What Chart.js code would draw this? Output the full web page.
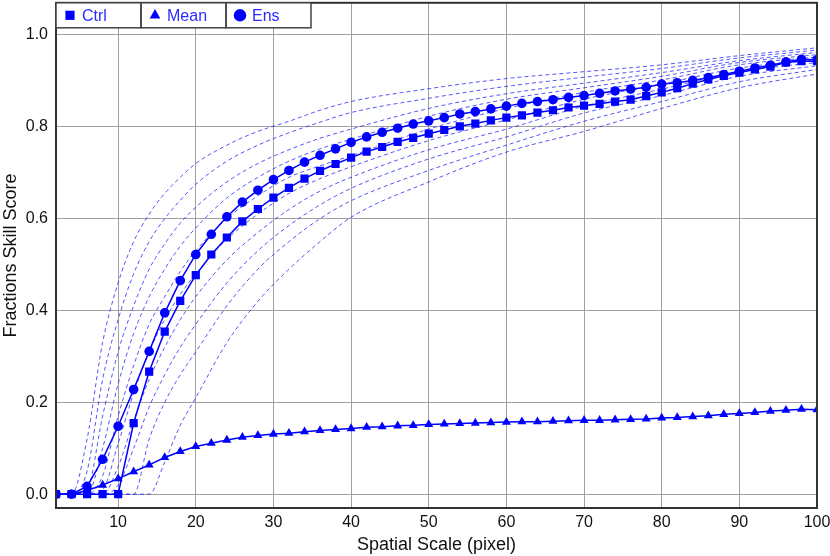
<!DOCTYPE html>
<html>
<head>
<meta charset="utf-8">
<script src="https://cdn.jsdelivr.net/npm/chart.js@4/dist/chart.umd.min.js"></script>
<style>
  html, body { margin:0; padding:0; background:#fff; overflow:hidden; }
  #wrap { width:830px; height:556px; overflow:hidden; }
  #fss { display:block; margin-top:-3px; }
</style>
</head>
<body>
<div id="wrap"><canvas id="fss" width="830" height="559"></canvas></div>
<script>
// spatial scales (pixel)
const scales = [2,4,6,8,10,12,14,16,18,20,22,24,26,28,30,32,34,36,38,40,42,44,46,48,50,
                52,54,56,58,60,62,64,66,68,70,72,74,76,78,80,82,84,86,88,90,92,94,96,98,100]

const ctrl = [0,0,0,0,0,0.155,0.267,0.354,0.421,0.477,0.522,0.559,0.594,0.621,0.646,0.667,0.687,0.704,0.719,0.733,
              0.746,0.756,0.767,0.776,0.785,0.793,0.801,0.807,0.814,0.820,0.825,0.831,0.836,0.842,0.846,0.850,0.855,0.859,0.867,0.875,
              0.884,0.894,0.903,0.911,0.918,0.925,0.931,0.940,0.943,0.943]
const mean = [0,0,0.008,0.020,0.034,0.049,0.064,0.080,0.093,0.104,0.111,0.118,0.124,0.128,0.131,0.133,0.136,0.139,0.141,0.143,
              0.146,0.147,0.149,0.150,0.152,0.153,0.154,0.155,0.156,0.157,0.158,0.158,0.159,0.160,0.161,0.161,0.162,0.163,0.164,0.166,
              0.167,0.169,0.171,0.174,0.176,0.178,0.181,0.183,0.185,0.184]
const ens = [0,0,0.017,0.076,0.148,0.228,0.311,0.395,0.465,0.522,0.566,0.604,0.636,0.662,0.685,0.705,0.723,0.738,0.752,0.766,
             0.778,0.788,0.797,0.806,0.813,0.820,0.828,0.833,0.839,0.845,0.851,0.855,0.859,0.864,0.868,0.873,0.878,0.882,0.886,0.893,
             0.896,0.901,0.907,0.914,0.921,0.928,0.934,0.941,0.947,0.946]

// ensemble members (dashed), read at these scales
const memberScales = [2,4,6,8,10,12,14,16,18,20,24,28,32,36,40,50,60,70,80,90,100]
const member1  = [0,0,0.12,0.33,0.46,0.55,0.61,0.655,0.69,0.72,0.76,0.79,0.812,0.836,0.855,0.883,0.905,0.92,0.935,0.955,0.972]
const member2  = [0,0,0.05,0.25,0.38,0.48,0.55,0.60,0.64,0.675,0.725,0.76,0.787,0.81,0.831,0.862,0.888,0.908,0.927,0.95,0.967]
const member3  = [0,0,0.01,0.17,0.31,0.41,0.49,0.545,0.59,0.625,0.68,0.72,0.75,0.775,0.795,0.84,0.872,0.895,0.918,0.944,0.962]
const member4  = [0,0,0,0.10,0.24,0.35,0.43,0.49,0.54,0.58,0.645,0.69,0.725,0.752,0.773,0.823,0.86,0.885,0.91,0.94,0.957]
const member5  = [0,0,0,0.04,0.17,0.28,0.37,0.43,0.485,0.53,0.60,0.65,0.69,0.715,0.737,0.795,0.84,0.875,0.902,0.935,0.952]
const member6  = [0,0,0,0.01,0.11,0.22,0.31,0.38,0.435,0.48,0.555,0.61,0.655,0.687,0.713,0.77,0.815,0.86,0.893,0.928,0.946]
const member7  = [0,0,0,0,0.06,0.16,0.25,0.32,0.38,0.43,0.51,0.57,0.62,0.66,0.69,0.75,0.795,0.845,0.882,0.92,0.94]
const member8  = [0,0,0,0,0.02,0.10,0.19,0.26,0.32,0.37,0.46,0.53,0.585,0.63,0.666,0.73,0.778,0.83,0.868,0.91,0.933]
const member9  = [0,0,0,0,0,0,0.12,0.20,0.26,0.31,0.41,0.49,0.55,0.60,0.639,0.705,0.76,0.812,0.855,0.898,0.925]
const member10 = [0,0,0,0,0,0,0,0.07,0.15,0.21,0.33,0.42,0.49,0.55,0.603,0.68,0.745,0.79,0.84,0.885,0.915]
const members = [member1,member2,member3,member4,member5,member6,member7,member8,member9,member10]

const xTicks = [10,20,30,40,50,60,70,80,90,100]
const yTicks = [0,0.2,0.4,0.6,0.8,1.0]

const blue = '#0000ff'
const fontFamily = '"Liberation Sans", Arial, sans-serif'

function pairs(xs, ys){
    return ys.map((y,i)=>({x: xs[i], y: y}))
}

let datasets = members.map((m,i)=>({
    label: 'member' + (i+1),
    data: pairs(memberScales, m),
    borderColor: 'rgba(30,30,255,0.75)',
    borderWidth: 1,
    borderDash: [4,3],
    pointRadius: 0,
    cubicInterpolationMode: 'monotone',
    fill: false,
    clip: 0,
    order: 5
}))

const mainStyle = {borderColor: blue, backgroundColor: blue, borderWidth: 1.5, pointBorderWidth: 0, fill: false, clip: 0, order: 1}
datasets.push(Object.assign({label:'Mean', data: pairs(scales, mean), pointStyle:'triangle', pointRadius:5.2}, mainStyle))
datasets.push(Object.assign({label:'Ctrl', data: pairs(scales, ctrl), pointStyle:'rect', pointRadius:5.8}, mainStyle))
datasets.push(Object.assign({label:'Ens', data: pairs(scales, ens), pointStyle:'circle', pointRadius:4.8}, mainStyle))

// frame around the plot plus the boxed legend in the top-left corner
const framePlugin = {
    id: 'frame',
    afterDatasetsDraw(chart){
        const {ctx, chartArea:a} = chart
        ctx.save()
        ctx.strokeStyle = '#333'
        ctx.lineWidth = 2
        ctx.strokeRect(a.left, a.top, a.right - a.left, a.bottom - a.top)

        const cells = [
            {label:'Ctrl', style:'rect', r:6.5},
            {label:'Mean', style:'triangle', r:6.2},
            {label:'Ens', style:'circle', r:6.2}
        ]
        const boxW = 85, boxH = 25
        const x0 = a.left, y0 = a.top
        ctx.fillStyle = '#fff'
        ctx.fillRect(x0, y0, boxW*3, boxH)
        ctx.strokeStyle = '#444'
        ctx.lineWidth = 1.5
        cells.forEach((c,i)=>{
            const cx = x0 + i*boxW
            ctx.strokeRect(cx, y0, boxW, boxH)
            ctx.fillStyle = blue
            Chart.helpers.drawPoint(ctx, {pointStyle:c.style, radius:c.r, borderWidth:0}, cx + 14, y0 + boxH/2)
            ctx.fillStyle = '#2a2aff'
            ctx.font = '16px ' + fontFamily
            ctx.textBaseline = 'middle'
            ctx.textAlign = 'left'
            ctx.fillText(c.label, cx + 26, y0 + boxH/2 + 1)
        })
        ctx.restore()
    }
}

const tickFont = {family: fontFamily, size: 16}
const titleFont = {family: fontFamily, size: 18}

new Chart(document.querySelector('#fss'), {
    type: 'line',
    data: {datasets: datasets},
    plugins: [framePlugin],
    options: {
        responsive: false,
        animation: false,
        layout: {padding: {top: 0, right: 13, left: 0, bottom: 0}},
        plugins: {legend: {display: false}, tooltip: {enabled: false}},
        elements: {line: {tension: 0}},
        scales: {
            x: {
                type: 'linear', min: 2, max: 100,
                afterBuildTicks: s => { s.ticks = xTicks.map(v=>({value: v})) },
                afterFit: s => { s.height = 48; s.paddingLeft = 0; s.paddingRight = 0 },
                ticks: {font: tickFont, color: '#111', maxRotation: 0, padding: 5, callback: v => String(v)},
                grid: {color: '#a0a0a0', lineWidth: 1, drawTicks: false},
                border: {display: false},
                title: {display: true, text: 'Spatial Scale (pixel)', font: titleFont, color: '#111', padding: {top: 0, bottom: 0}}
            },
            y: {
                type: 'linear', min: -0.03, max: 1.07,
                afterBuildTicks: s => { s.ticks = yTicks.map(v=>({value: v})) },
                afterFit: s => { s.width = 56; s.paddingTop = 0; s.paddingBottom = 0 },
                ticks: {font: tickFont, color: '#111', padding: 8, callback: v => v.toFixed(1)},
                grid: {color: '#a0a0a0', lineWidth: 1, drawTicks: false},
                border: {display: false},
                title: {display: true, text: 'Fractions Skill Score', font: titleFont, color: '#111', padding: {top: 0, bottom: 0}}
            }
        }
    }
})
</script>
</body>
</html>
